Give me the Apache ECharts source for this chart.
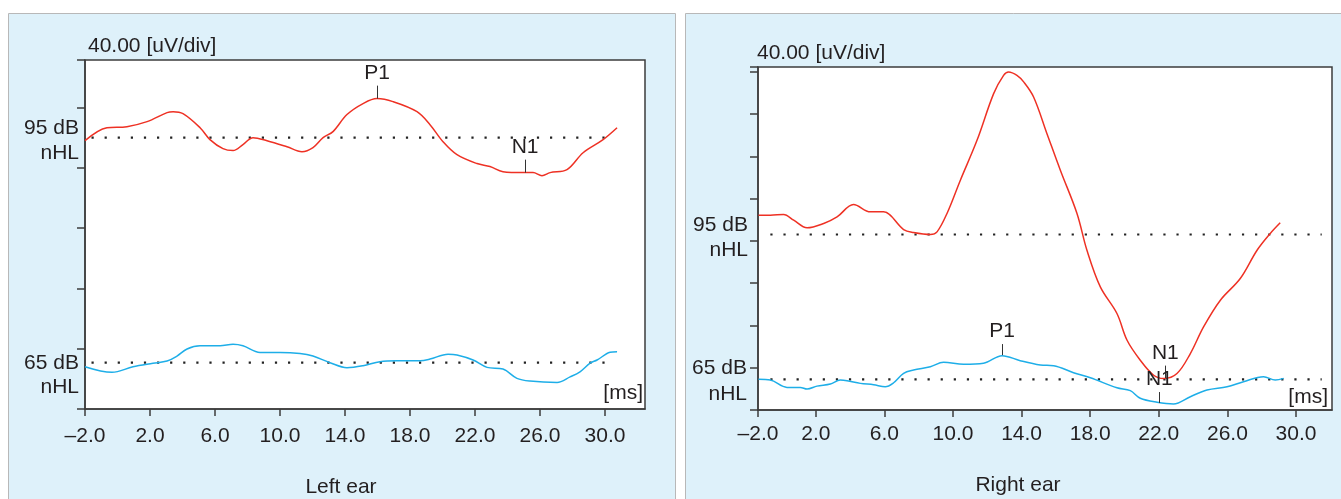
<!DOCTYPE html>
<html>
<head>
<meta charset="utf-8">
<script src="https://cdn.jsdelivr.net/npm/echarts@6/dist/echarts.min.js"></script>
<style>html,body{margin:0;padding:0;background:#fff;}#c{width:1341px;height:499px;}</style>
</head>
<body>
<div id="c"></div>
<script>
// ---- data (time in ms, amplitude in µV relative to each trace's baseline) ----
const leftRedX = [-2.0,-0.65,0.58,1.82,3.05,3.42,4.03,5.08,5.69,6.49,7.11,7.72,8.34,9.2,10.43,11.35,12.03,12.65,13.26,14.12,15.11,15.97,16.95,18.43,19.23,20.03,20.89,22.12,22.92,23.72,24.95,25.57,26.12,26.62,27.66,28.65,29.88,30.74];
const leftRedAmp = [-2.0,6.6,7.3,10.6,16.6,17.2,15.9,6.6,-1.3,-7.3,-8.6,-4.6,0,-2.0,-6.0,-9.3,-6.6,0,4.0,15.3,22.6,25.9,23.9,17.2,8.6,-2.7,-11.3,-17.2,-19.2,-22.6,-23.2,-23.2,-25.2,-23.2,-21.2,-10.0,-1.3,6.6];
const leftBlueX = [-2.0,-0.34,0.95,2.18,3.05,3.66,4.28,5.08,6.31,7.11,7.72,8.77,10.0,11.23,12.03,13.08,14.12,15.11,16.15,17.2,18.62,19.23,20.34,20.89,21.88,22.74,23.72,24.58,25.38,27.05,27.85,28.46,29.08,29.51,30.31,30.74];
const leftBlueAmp = [-2.7,-6.4,-2.7,-0.4,1.1,4.4,9.1,11.2,11.2,12.2,11.2,6.8,6.8,6.1,4.4,0,-3.3,-2.0,0.7,1.3,1.3,2.4,5.6,5.1,1.8,-3.1,-4.2,-10.4,-12.2,-13.1,-9.4,-6.0,-0.3,1.8,6.9,7.3];
const rightRedX = [-1.34,-0.65,0.12,0.71,1.49,2.46,3.24,4.20,5.18,5.95,7.12,7.70,8.68,9.07,9.65,10.43,11.40,12.37,12.95,13.24,13.73,14.12,14.70,15.48,16.26,17.23,17.81,18.59,19.56,20.15,20.92,21.70,22.28,23.06,23.84,24.61,25.59,26.75,27.73,28.50,29.08];
const rightRedAmp = [18.3,18.3,18.9,13.5,6.3,10.4,16.6,28.4,21.4,21.4,4.7,1.9,0,2.5,19.9,51.4,89.1,133.3,150.6,153.8,150.6,144.4,130.1,95.4,60.8,19.9,-14.9,-49.6,-74.8,-100.1,-119.0,-133.2,-136.3,-131.6,-112.7,-87.5,-62.2,-41.7,-14.9,1.0,11.1];
const rightBlueX = [-1.34,-0.65,0.32,1.10,1.49,2.07,2.85,3.43,3.82,4.60,5.37,6.05,6.54,7.12,7.70,8.68,9.45,10.62,11.78,12.86,13.92,15.09,15.87,17.03,18.01,19.56,20.34,20.92,21.90,22.86,23.84,24.81,25.98,26.94,28.11,28.79,29.28];
const rightBlueAmp = [0,-0.7,-7.6,-7.6,-9.2,-6.4,-4.4,-0.7,-1.3,-3.8,-5.1,-7.0,-3.2,5.7,8.8,12.0,16.2,14.3,15.2,22.4,17.7,13.6,12.9,6.3,1.5,-7.9,-10.7,-17.9,-21.7,-23.3,-16.4,-10.1,-7.0,-2.2,2.5,-0.7,0.9];

// baselines (µV above the axis bottom) and dotted baseline spans (ms)
const leftBase95 = 180.0, leftBase65 = 30.7;
const rightBase95 = 166.1, rightBase65 = 29.0;
const leftDotSpan = [-1.6, 30.6];
const rightDotSpan = [-0.65, 31.5];

// peak markers: [label, ms, amplitude at the peak]
const leftRedPeaks = [['P1', 15.97, 25.9], ['N1', 25.08, -23.2]];
const rightRedPeaks = [['P1', 13.20, 154.4], ['N1', 22.38, -135.9]];
const rightBluePeaks = [['P1', 12.86, 23.0], ['N1', 22.03, -22.4]];

// axes
const leftTickValues = [-2, 2, 6, 10, 14, 18, 22, 26, 30];
const rightTickValues = [-1.37, 2, 6, 10, 14, 18, 22, 26, 30];
const tickLabels = ['–2.0','2.0','6.0','10.0','14.0','18.0','22.0','26.0','30.0'];
const uVperDiv = 40;
const panelTitles = ['Left ear', 'Right ear'];
const levelLabels = ['95 dB', '65 dB', 'nHL'];

// ---- build ----
const FONT = 'Liberation Sans, Arial, sans-serif';
const TXT = '#231f20';
const RED = '#ee3124';
const BLUE = '#1eaee8';

function zip(xs, amps, base) { return xs.map((x, i) => [x, amps[i] + base]); }

function peakLines(peaks, base, d) {
  return peaks.map(p => [
    { coord: [p[1], p[2] + base], name: p[0] },
    { coord: [p[1], p[2] + base + d] }
  ]);
}
function markCfg(peaks, base, d) {
  return {
    silent: true, symbol: ['none', 'none'], animation: false,
    lineStyle: { color: '#333', width: 1, type: 'solid' },
    label: { show: true, position: 'end', distance: 2, formatter: p => p.name, fontSize: 21, fontFamily: FONT, color: TXT },
    emphasis: { disabled: true },
    data: peakLines(peaks, base, d)
  };
}
function trace(xs, amps, base, color, gi, mark) {
  const s = {
    type: 'line', xAxisIndex: gi, yAxisIndex: gi, data: zip(xs, amps, base),
    showSymbol: false, smooth: 0.35, lineStyle: { color: color, width: 1.5 }, itemStyle: { color: color },
    silent: true, animation: false, z: 3
  };
  if (mark) s.markLine = mark;
  return s;
}
function dotted(span, base, gi) {
  return {
    type: 'line', xAxisIndex: gi, yAxisIndex: gi, data: [[span[0], base], [span[1], base]],
    showSymbol: false, lineStyle: { color: '#222', width: 2.2, type: [2.2, 10.9] }, silent: true, animation: false, z: 2
  };
}
function xAxisCfg(gi, min, max, tickVals, margin) {
  return {
    type: 'value', gridIndex: gi, min: min, max: max,
    axisLine: { show: true, onZero: false, lineStyle: { color: '#3c3c3c', width: 1.5 } },
    axisTick: { show: true, length: 7, lineStyle: { color: '#3c3c3c', width: 1.5 }, customValues: tickVals },
    axisLabel: { show: true, customValues: tickVals, margin: margin, fontSize: 21, fontFamily: FONT, color: TXT,
      formatter: v => { const i = tickVals.findIndex(t => Math.abs(t - v) < 1e-6); return i >= 0 ? tickLabels[i] : ''; } },
    splitLine: { show: false }
  };
}
function yAxisCfg(gi, max) {
  return {
    type: 'value', gridIndex: gi, min: 0, max: max, interval: uVperDiv,
    axisLine: { show: true, onZero: false, lineStyle: { color: '#3c3c3c', width: 1.5 } },
    axisTick: { show: true, length: 8, lineStyle: { color: '#3c3c3c', width: 1.5 } },
    axisLabel: { show: false }, splitLine: { show: false }
  };
}
function txt(x, y, s, align) {
  return { type: 'text', x: x, y: y, z: 10, silent: true,
    style: { text: s, fill: TXT, font: '21px ' + FONT, align: align || 'left', verticalAlign: 'middle' } };
}

const option = {
  backgroundColor: '#ffffff',
  animation: false,
  grid: [
    { left: 85, top: 60, width: 560, height: 349, show: true, backgroundColor: '#ffffff', borderColor: '#3c3c3c', borderWidth: 1.5 },
    { left: 758, top: 67, width: 574, height: 343, show: true, backgroundColor: '#ffffff', borderColor: '#3c3c3c', borderWidth: 1.5 }
  ],
  xAxis: [ xAxisCfg(0, -2, 32.46, leftTickValues, 17), xAxisCfg(1, -1.37, 32.1, rightTickValues, 14) ],
  yAxis: [ yAxisCfg(0, 231.5), yAxisCfg(1, 324.6) ],
  series: [
    dotted(leftDotSpan, leftBase95, 0),
    dotted(leftDotSpan, leftBase65, 0),
    dotted(rightDotSpan, rightBase95, 1),
    dotted(rightDotSpan, rightBase65, 1),
    trace(leftRedX, leftRedAmp, leftBase95, RED, 0, markCfg(leftRedPeaks, leftBase95, 8.6)),
    trace(leftBlueX, leftBlueAmp, leftBase65, BLUE, 0, null),
    trace(rightRedX, rightRedAmp, rightBase95, RED, 1, markCfg(rightRedPeaks, rightBase95, 11.8)),
    trace(rightBlueX, rightBlueAmp, rightBase65, BLUE, 1, markCfg(rightBluePeaks, rightBase65, 10.4))
  ],
  graphic: [
    { type: 'rect', z: -10, silent: true, shape: { x: 8.5, y: 13.5, width: 667, height: 500 }, style: { fill: '#def1fa', stroke: '#b8b8b8', lineWidth: 1 } },
    { type: 'rect', z: -10, silent: true, shape: { x: 685.5, y: 13.5, width: 670, height: 500 }, style: { fill: '#def1fa', stroke: '#b8b8b8', lineWidth: 1 } },
    txt(88, 46, uVperDiv.toFixed(2) + ' [uV/div]'),
    txt(757, 53, uVperDiv.toFixed(2) + ' [uV/div]'),
    txt(79, 128, levelLabels[0], 'right'), txt(79, 153, levelLabels[2], 'right'),
    txt(79, 363, levelLabels[1], 'right'), txt(79, 387, levelLabels[2], 'right'),
    txt(748, 225, levelLabels[0], 'right'), txt(748, 250, levelLabels[2], 'right'),
    txt(747, 368, levelLabels[1], 'right'), txt(747, 394, levelLabels[2], 'right'),
    txt(643, 393, '[ms]', 'right'),
    txt(1328, 397, '[ms]', 'right'),
    txt(341, 487, panelTitles[0], 'center'),
    txt(1018, 485, panelTitles[1], 'center')
  ]
};
const chart = echarts.init(document.getElementById('c'), null, { renderer: 'canvas' });
chart.setOption(option);
</script>
</body>
</html>
